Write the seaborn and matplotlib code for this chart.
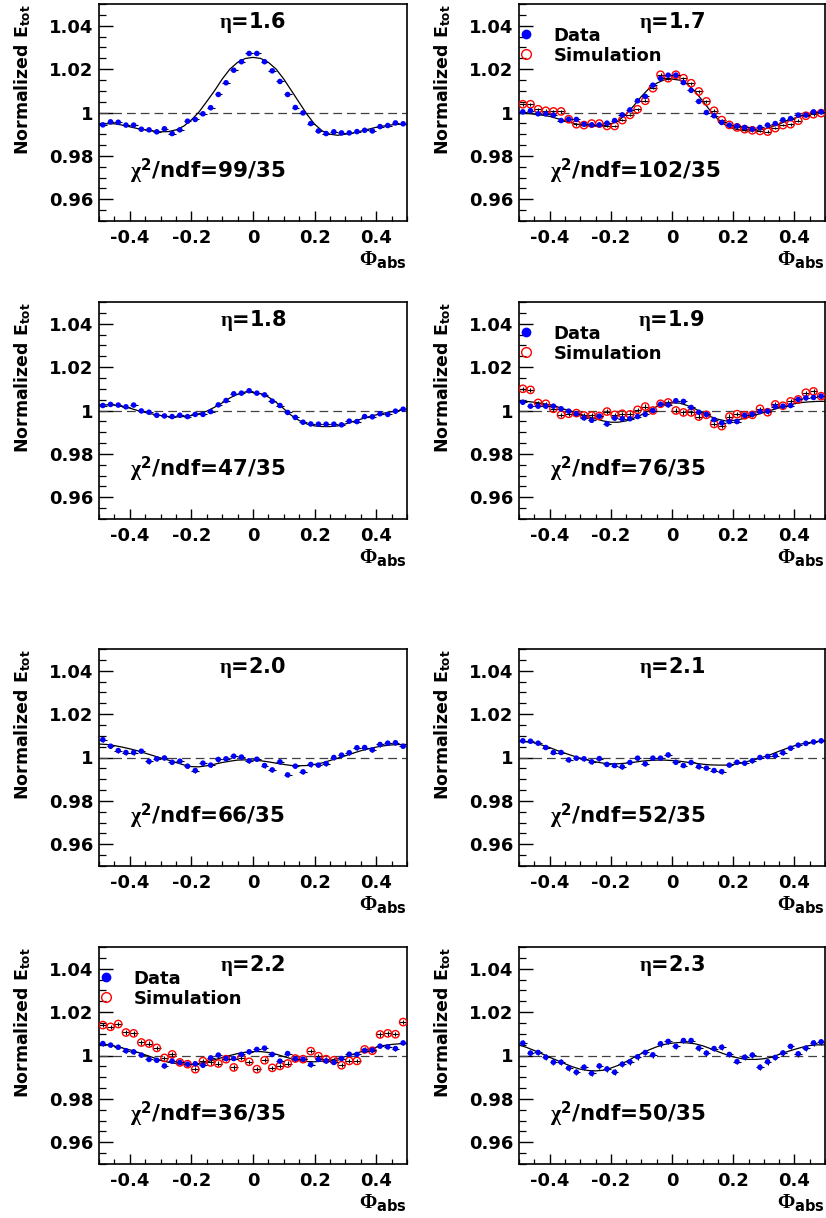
import numpy as np
import pandas as pd
import matplotlib
matplotlib.use("Agg")
import matplotlib.pyplot as plt
import seaborn as sns
from matplotlib.lines import Line2D
from matplotlib.ticker import FixedLocator, FixedFormatter, MultipleLocator

# ---------------- data ----------------
phi_bins = [-0.4875, -0.4625, -0.4375, -0.4125, -0.3875, -0.3625, -0.3375, -0.3125,
            -0.2875, -0.2625, -0.2375, -0.2125, -0.1875, -0.1625, -0.1375, -0.1125,
            -0.0875, -0.0625, -0.0375, -0.0125, 0.0125, 0.0375, 0.0625, 0.0875,
            0.1125, 0.1375, 0.1625, 0.1875, 0.2125, 0.2375, 0.2625, 0.2875,
            0.3125, 0.3375, 0.3625, 0.3875, 0.4125, 0.4375, 0.4625, 0.4875]
fit_phi = [-0.5, -0.475, -0.45, -0.425, -0.4, -0.375, -0.35, -0.325, -0.3, -0.275,
           -0.25, -0.225, -0.2, -0.175, -0.15, -0.125, -0.1, -0.075, -0.05, -0.025,
           0.0, 0.025, 0.05, 0.075, 0.1, 0.125, 0.15, 0.175, 0.2, 0.225,
           0.25, 0.275, 0.3, 0.325, 0.35, 0.375, 0.4, 0.425, 0.45, 0.475, 0.5]

eta_labels = ["1.6", "1.7", "1.8", "1.9", "2.0", "2.1", "2.2", "2.3"]
chi2_labels = ["99/35", "102/35", "47/35", "76/35", "66/35", "52/35", "36/35", "50/35"]

data_16 = [0.9943, 0.9957, 0.9955, 0.9942, 0.9942, 0.9923, 0.9920, 0.9911, 0.9925, 0.9903,
           0.9920, 0.9960, 0.9968, 0.9994, 1.0022, 1.0083, 1.0137, 1.0195, 1.0234, 1.0272,
           1.0272, 1.0234, 1.0192, 1.0143, 1.0083, 1.0023, 0.9998, 0.9949, 0.9915, 0.9903,
           0.9911, 0.9906, 0.9906, 0.9912, 0.9918, 0.9915, 0.9935, 0.9940, 0.9952, 0.9948]
fit_16 = [0.9946, 0.9948, 0.9948, 0.9942, 0.9934, 0.9926, 0.9920, 0.9914, 0.9911, 0.9912,
          0.9920, 0.9937, 0.9966, 1.0003, 1.0051, 1.0100, 1.0154, 1.0200, 1.0231, 1.0249,
          1.0254, 1.0249, 1.0231, 1.0200, 1.0154, 1.0100, 1.0046, 0.9992, 0.9946, 0.9915,
          0.9900, 0.9895, 0.9900, 0.9906, 0.9914, 0.9923, 0.9932, 0.9938, 0.9943, 0.9946, 0.9946]

data_17 = [1.0003, 1.0008, 0.9994, 0.9994, 0.9988, 0.9963, 0.9969, 0.9968, 0.9946, 0.9943,
           0.9943, 0.9951, 0.9963, 0.9989, 1.0012, 1.0054, 1.0074, 1.0126, 1.0157, 1.0172,
           1.0172, 1.0138, 1.0102, 1.0051, 1.0000, 0.9985, 0.9954, 0.9942, 0.9938, 0.9931,
           0.9923, 0.9931, 0.9942, 0.9949, 0.9966, 0.9972, 0.9988, 0.9988, 1.0003, 1.0003]
sim_17 = [1.0038, 1.0038, 1.0015, 1.0008, 1.0005, 1.0005, 0.9969, 0.9946, 0.9942, 0.9949,
          0.9949, 0.9938, 0.9938, 0.9965, 0.9989, 1.0015, 1.0054, 1.0112, 1.0174, 1.0158,
          1.0174, 1.0158, 1.0135, 1.0097, 1.0051, 1.0008, 0.9965, 0.9943, 0.9931, 0.9923,
          0.9918, 0.9915, 0.9912, 0.9928, 0.9942, 0.9946, 0.9962, 0.9985, 0.9992, 0.9997]
fit_17 = [1.0000, 0.9997, 0.9992, 0.9988, 0.9982, 0.9972, 0.9962, 0.9951, 0.9943, 0.9938,
          0.9937, 0.9938, 0.9946, 0.9962, 0.9992, 1.0031, 1.0074, 1.0111, 1.0135, 1.0151,
          1.0154, 1.0149, 1.0131, 1.0097, 1.0054, 1.0008, 0.9969, 0.9942, 0.9926, 0.9918,
          0.9915, 0.9917, 0.9923, 0.9934, 0.9946, 0.9962, 0.9974, 0.9985, 0.9994, 1.0000, 1.0003]

data_18 = [1.0023, 1.0028, 1.0025, 1.0017, 1.0025, 0.9998, 0.9992, 0.9978, 0.9975, 0.9972,
           0.9978, 0.9972, 0.9982, 0.9982, 0.9995, 1.0026, 1.0046, 1.0077, 1.0080, 1.0091,
           1.0080, 1.0072, 1.0043, 1.0023, 0.9991, 0.9968, 0.9946, 0.9938, 0.9937, 0.9937,
           0.9937, 0.9934, 0.9951, 0.9949, 0.9972, 0.9971, 0.9985, 0.9982, 0.9997, 1.0006]
fit_18 = [1.0026, 1.0026, 1.0025, 1.0018, 1.0011, 1.0000, 0.9991, 0.9983, 0.9977, 0.9972,
          0.9971, 0.9972, 0.9977, 0.9985, 0.9997, 1.0015, 1.0035, 1.0058, 1.0075, 1.0085,
          1.0083, 1.0077, 1.0062, 1.0038, 1.0008, 0.9977, 0.9954, 0.9938, 0.9929, 0.9926,
          0.9926, 0.9929, 0.9938, 0.9949, 0.9960, 0.9971, 0.9980, 0.9988, 0.9994, 1.0000, 1.0006]

data_19 = [1.0038, 1.0020, 1.0020, 1.0020, 1.0020, 1.0008, 0.9997, 0.9985, 0.9966, 0.9955,
           0.9974, 0.9938, 0.9965, 0.9962, 0.9962, 0.9972, 0.9982, 1.0000, 1.0029, 1.0026,
           1.0045, 1.0042, 1.0014, 0.9992, 0.9982, 0.9958, 0.9943, 0.9949, 0.9949, 0.9978,
           0.9983, 0.9995, 0.9997, 1.0018, 1.0020, 1.0023, 1.0051, 1.0058, 1.0060, 1.0066]
sim_19 = [1.0100, 1.0095, 1.0035, 1.0031, 1.0008, 0.9980, 0.9985, 0.9988, 0.9977, 0.9977,
          0.9975, 0.9995, 0.9980, 0.9985, 0.9982, 1.0003, 1.0018, 1.0000, 1.0031, 1.0037,
          1.0000, 0.9991, 0.9991, 0.9972, 0.9980, 0.9938, 0.9928, 0.9972, 0.9983, 0.9978,
          0.9980, 1.0008, 0.9992, 1.0028, 1.0022, 1.0042, 1.0051, 1.0082, 1.0088, 1.0066]
fit_19 = [1.0042, 1.0042, 1.0038, 1.0033, 1.0026, 1.0017, 1.0005, 0.9994, 0.9983, 0.9972,
          0.9962, 0.9952, 0.9946, 0.9946, 0.9952, 0.9965, 0.9980, 1.0000, 1.0018, 1.0031,
          1.0035, 1.0034, 1.0023, 1.0008, 0.9989, 0.9972, 0.9960, 0.9952, 0.9954, 0.9960,
          0.9969, 0.9980, 0.9991, 1.0002, 1.0012, 1.0022, 1.0031, 1.0037, 1.0040, 1.0042, 1.0042]

data_20 = [1.0082, 1.0052, 1.0032, 1.0023, 1.0023, 1.0029, 0.9982, 0.9994, 0.9998, 0.9978,
           0.9983, 0.9960, 0.9940, 0.9974, 0.9965, 0.9991, 0.9994, 1.0006, 1.0002, 0.9985,
           0.9992, 0.9963, 0.9943, 0.9980, 0.9920, 0.9960, 0.9934, 0.9968, 0.9965, 0.9972,
           1.0000, 1.0011, 1.0022, 1.0045, 1.0046, 1.0035, 1.0060, 1.0066, 1.0068, 1.0052]
fit_20 = [1.0062, 1.0060, 1.0055, 1.0048, 1.0040, 1.0031, 1.0020, 1.0009, 0.9998, 0.9988,
          0.9977, 0.9966, 0.9958, 0.9957, 0.9962, 0.9969, 0.9977, 0.9983, 0.9988, 0.9989,
          0.9988, 0.9985, 0.9980, 0.9974, 0.9968, 0.9963, 0.9962, 0.9963, 0.9968, 0.9975,
          0.9986, 0.9997, 1.0008, 1.0020, 1.0031, 1.0040, 1.0048, 1.0054, 1.0058, 1.0060, 1.0060]

data_21 = [1.0077, 1.0075, 1.0066, 1.0046, 1.0023, 1.0023, 0.9989, 0.9997, 0.9994, 0.9980,
           0.9995, 0.9968, 0.9963, 0.9957, 0.9977, 0.9997, 0.9971, 0.9997, 0.9997, 1.0012,
           0.9978, 0.9963, 0.9977, 0.9958, 0.9951, 0.9940, 0.9935, 0.9965, 0.9978, 0.9974,
           0.9985, 1.0000, 1.0005, 1.0009, 1.0022, 1.0043, 1.0057, 1.0065, 1.0072, 1.0077]
fit_21 = [1.0074, 1.0072, 1.0068, 1.0057, 1.0046, 1.0032, 1.0020, 1.0008, 0.9997, 0.9988,
          0.9980, 0.9974, 0.9971, 0.9971, 0.9974, 0.9978, 0.9983, 0.9986, 0.9988, 0.9988,
          0.9986, 0.9983, 0.9978, 0.9974, 0.9969, 0.9966, 0.9965, 0.9965, 0.9968, 0.9974,
          0.9983, 0.9992, 1.0003, 1.0015, 1.0029, 1.0042, 1.0054, 1.0063, 1.0069, 1.0074, 1.0077]

data_22 = [1.0055, 1.0048, 1.0038, 1.0022, 1.0017, 1.0002, 0.9982, 0.9978, 0.9952, 0.9974,
           0.9968, 0.9960, 0.9962, 0.9955, 0.9989, 1.0002, 0.9986, 0.9986, 1.0005, 1.0017,
           1.0028, 1.0034, 1.0005, 0.9974, 1.0009, 0.9985, 0.9983, 0.9958, 0.9982, 0.9975,
           0.9968, 0.9986, 1.0006, 1.0005, 1.0023, 1.0025, 1.0043, 1.0040, 1.0032, 1.0058]
sim_22 = [1.0140, 1.0132, 1.0145, 1.0106, 1.0102, 1.0060, 1.0055, 1.0035, 0.9989, 1.0005,
          0.9968, 0.9960, 0.9937, 0.9974, 0.9968, 0.9963, 0.9983, 0.9945, 0.9989, 0.9971,
          0.9937, 0.9978, 0.9943, 0.9952, 0.9963, 0.9986, 0.9983, 1.0020, 0.9997, 0.9983,
          0.9978, 0.9955, 0.9975, 0.9975, 1.0028, 1.0022, 1.0097, 1.0102, 1.0098, 1.0154]
fit_22 = [1.0055, 1.0050, 1.0043, 1.0035, 1.0026, 1.0015, 1.0003, 0.9991, 0.9978, 0.9969,
          0.9963, 0.9960, 0.9960, 0.9963, 0.9971, 0.9980, 0.9991, 1.0000, 1.0009, 1.0015,
          1.0018, 1.0018, 1.0014, 1.0006, 0.9995, 0.9985, 0.9977, 0.9972, 0.9971, 0.9974,
          0.9978, 0.9986, 0.9995, 1.0006, 1.0017, 1.0028, 1.0038, 1.0046, 1.0051, 1.0054, 1.0055]

data_23 = [1.0057, 1.0011, 1.0014, 0.9992, 0.9969, 0.9969, 0.9942, 0.9923, 0.9946, 0.9918,
           0.9952, 0.9938, 0.9923, 0.9960, 0.9971, 0.9994, 1.0014, 1.0003, 1.0054, 1.0065,
           1.0042, 1.0069, 1.0069, 1.0034, 1.0011, 1.0032, 1.0038, 1.0005, 0.9972, 0.9992,
           1.0002, 0.9946, 0.9971, 0.9991, 1.0012, 1.0042, 1.0008, 1.0034, 1.0058, 1.0063]
fit_23 = [1.0049, 1.0037, 1.0023, 1.0008, 0.9992, 0.9977, 0.9962, 0.9948, 0.9937, 0.9931,
          0.9929, 0.9932, 0.9942, 0.9955, 0.9972, 0.9991, 1.0009, 1.0026, 1.0040, 1.0051,
          1.0057, 1.0060, 1.0058, 1.0054, 1.0045, 1.0032, 1.0018, 1.0005, 0.9994, 0.9986,
          0.9982, 0.9982, 0.9985, 0.9992, 1.0005, 1.0017, 1.0028, 1.0038, 1.0046, 1.0049, 1.0049]

data_err = [0.0004, 0.0005, 0.0005, 0.0008, 0.0010, 0.0009, 0.0009, 0.0013]
sim_err = [0.0006, 0.0006, 0.0006, 0.0010, 0.0010, 0.0010, 0.0010, 0.0010]

data_series = [data_16, data_17, data_18, data_19, data_20, data_21, data_22, data_23]
fit_series = [fit_16, fit_17, fit_18, fit_19, fit_20, fit_21, fit_22, fit_23]
sim_series = {1: sim_17, 3: sim_19, 6: sim_22}

x_ticks = [-0.4, -0.2, 0.0, 0.2, 0.4]
x_ticklabels = ["-0.4", "-0.2", "0", "0.2", "0.4"]
y_ticks = [0.96, 0.98, 1.0, 1.02, 1.04]
y_ticklabels = ["0.96", "0.98", "1", "1.02", "1.04"]

# ---------------- style ----------------
sns.set_style("ticks")
plt.rcParams["font.family"] = ["DejaVu Sans"]
plt.rcParams["font.weight"] = "bold"
plt.rcParams["text.color"] = "black"
plt.rcParams["axes.labelcolor"] = "black"
plt.rcParams["xtick.color"] = "black"
plt.rcParams["ytick.color"] = "black"
plt.rcParams["axes.edgecolor"] = "black"
plt.rcParams["mathtext.fontset"] = "custom"
plt.rcParams["mathtext.rm"] = "Liberation Serif"
plt.rcParams["mathtext.it"] = "Liberation Serif"
plt.rcParams["mathtext.bf"] = "DejaVu Sans:bold"
plt.rcParams["mathtext.sf"] = "DejaVu Sans:bold"

W, H = 826, 1218
fig = plt.figure(figsize=(W / 100, H / 100), dpi=100)
fig.patch.set_facecolor("white")

col_x = [(99, 407), (519, 825)]
row_y = [(4, 221), (302, 519), (649, 866), (947, 1164)]

for k in range(8):
    r, c = divmod(k, 2)
    x0, x1 = col_x[c]
    y0, y1 = row_y[r]
    ax = fig.add_axes([x0 / W, 1 - y1 / H, (x1 - x0) / W, (y1 - y0) / H])
    ax.set_facecolor("white")

    ax.axhline(1.0, color="0.25", lw=0.9, ls=(0, (7, 4)), zorder=1)

    fdf = pd.DataFrame({"phi": fit_phi, "val": fit_series[k]})
    sns.lineplot(data=fdf, x="phi", y="val", ax=ax, color="black", lw=0.9,
                 estimator=None, sort=False, zorder=2)

    ddf = pd.DataFrame({"phi": phi_bins, "val": data_series[k]})
    if k in sim_series:
        sdf = pd.DataFrame({"phi": phi_bins, "val": sim_series[k]})
        ax.errorbar(sdf["phi"], sdf["val"], xerr=0.0125, yerr=sim_err[k], fmt="none",
                    ecolor="black", elinewidth=0.8, capsize=0, zorder=3)
        sns.scatterplot(data=sdf, x="phi", y="val", ax=ax, marker="o", s=28,
                        facecolor="none", edgecolor="red", linewidth=1.0, zorder=4)
    ax.errorbar(ddf["phi"], ddf["val"], xerr=0.0125, yerr=data_err[k], fmt="none",
                ecolor="black", elinewidth=0.8, capsize=0, zorder=5)
    sns.scatterplot(data=ddf, x="phi", y="val", ax=ax, color="blue", s=16,
                    edgecolor="none", linewidth=0, zorder=6)

    ax.set_xlim(-0.5, 0.5)
    ax.set_ylim(0.95, 1.05)
    ax.set_xlabel("")
    ax.set_ylabel("")

    ax.xaxis.set_major_locator(FixedLocator(x_ticks))
    ax.xaxis.set_major_formatter(FixedFormatter(x_ticklabels))
    ax.xaxis.set_minor_locator(MultipleLocator(0.05))
    ax.yaxis.set_major_locator(FixedLocator(y_ticks))
    ax.yaxis.set_major_formatter(FixedFormatter(y_ticklabels))
    ax.yaxis.set_minor_locator(MultipleLocator(0.005))

    ax.tick_params(axis="x", which="major", direction="in", length=7, width=1.0,
                   labelsize=13, pad=6, top=False, colors="black")
    ax.tick_params(axis="x", which="minor", direction="in", length=3.5, width=0.9,
                   top=False, colors="black")
    ax.tick_params(axis="y", which="major", direction="in", length=10, width=1.0,
                   labelsize=13, pad=4, right=False, colors="black")
    ax.tick_params(axis="y", which="minor", direction="in", length=5, width=0.9,
                   right=False, colors="black")
    for lab in ax.get_xticklabels() + ax.get_yticklabels():
        lab.set_fontweight("bold")
        lab.set_color("black")
    for sp in ax.spines.values():
        sp.set_visible(True)
        sp.set_color("black")
        sp.set_linewidth(1.2)

    ax.text(0.0, 1.039, r"$\eta$=" + eta_labels[k], ha="center", va="baseline",
            fontsize=15, fontweight="bold", color="black")
    ax.text(-0.4, 0.970, r"$\chi^{\mathbf{2}}$/ndf=" + chi2_labels[k], ha="left",
            va="baseline", fontsize=15.5, fontweight="bold", color="black")

    ax.text(1.0, -0.128, r"$\Phi_{\mathbf{abs}}$", transform=ax.transAxes,
            ha="right", va="top", fontsize=15, color="black")
    ax.text(-0.282, 1.0, r"Normalized E$_{\mathbf{tot}}$", transform=ax.transAxes,
            rotation=90, ha="left", va="top", fontsize=12.5, fontweight="bold",
            color="black")

    if k in sim_series:
        handles = [
            Line2D([], [], marker="o", color="blue", linestyle="none", markersize=6),
            Line2D([], [], marker="o", markerfacecolor="none", markeredgecolor="red",
                   markeredgewidth=1.0, linestyle="none", markersize=7),
        ]
        leg = ax.legend(handles, ["Data", "Simulation"], loc="upper left",
                        bbox_to_anchor=(-0.005, 0.895), frameon=False,
                        handlelength=1.0, handletextpad=1.0, borderpad=0.0,
                        borderaxespad=0.0, labelspacing=0.1,
                        prop={"weight": "bold", "size": 13})
        for t in leg.get_texts():
            t.set_color("black")

fig.savefig("out.png", dpi=100, facecolor="white")
